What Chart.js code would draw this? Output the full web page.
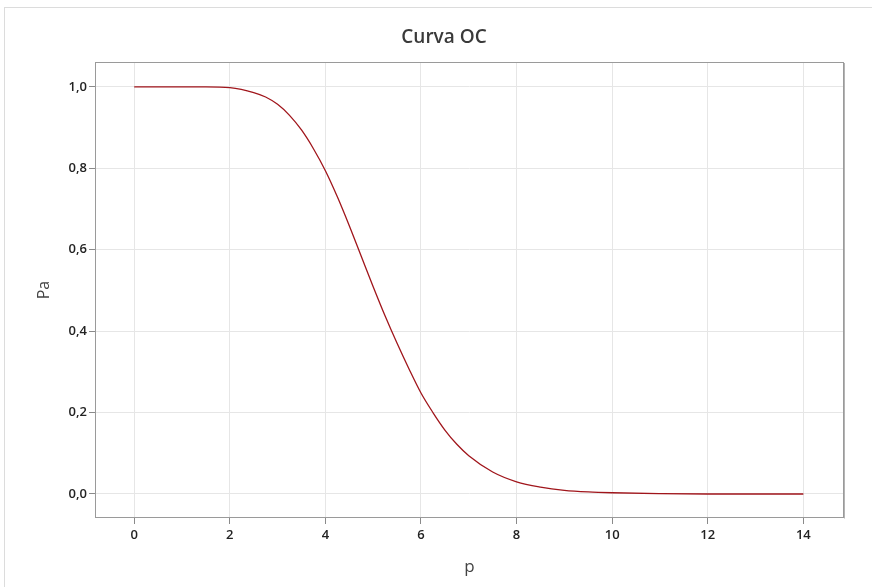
<!DOCTYPE html>
<html>
<head>
<meta charset="utf-8">
<script src="https://cdn.jsdelivr.net/npm/chart.js@4.4.1/dist/chart.umd.min.js"></script>
<style>
  body { margin: 0; background: #fff; }
  #frame { position: absolute; left: 4px; top: 7px; width: 900px; height: 600px;
           border-left: 1px solid #dcdcdc; border-top: 1px solid #dcdcdc; }
  #wrap { position: absolute; left: 0; top: 0; width: 872px; height: 587px; }
</style>
</head>
<body>
<div id="frame"></div>
<div id="wrap"><canvas id="ocChart" width="872" height="587"></canvas></div>
<script>
// data
var pValues = [0, 0.5, 1, 1.5, 2, 2.5, 2.75, 3, 3.25, 3.5, 3.75, 4, 4.25, 4.5, 4.75, 5, 5.25, 5.5, 5.75, 6, 6.25, 6.5, 6.75, 7, 7.5, 8, 8.5, 9, 9.5, 10, 11, 12, 13, 14]
var paValues = [1, 1, 1, 1, 0.998, 0.986, 0.975, 0.957, 0.930, 0.894, 0.848, 0.794, 0.730, 0.659, 0.584, 0.509, 0.437, 0.370, 0.307, 0.248, 0.200, 0.157, 0.122, 0.094, 0.054, 0.03, 0.017, 0.009, 0.005, 0.003, 0.001, 0, 0, 0]
var xTicks = [0, 2, 4, 6, 8, 10, 12, 14]
var yTicks = [0, 0.2, 0.4, 0.6, 0.8, 1.0]

var chartTitle = 'Curva OC'
var labelFont = { family: 'Open Sans', size: 13, weight: '600' }

// frame round the plot area + the title
var framePlugin = {
    id: 'frame',
    afterDraw: function (chart) {
        var a = chart.chartArea
        var ctx = chart.ctx
        ctx.save()
        ctx.strokeStyle = '#9a9a9a'
        ctx.lineWidth = 1
        ctx.strokeRect(a.left + 0.5, a.top + 0.5, a.right - a.left - 1, a.bottom - a.top - 1)
        ctx.strokeStyle = '#b4b4b4'
        ctx.beginPath()
        ctx.moveTo(a.right + 0.5, a.top + 1)
        ctx.lineTo(a.right + 0.5, a.bottom + 0.5)
        ctx.stroke()
        ctx.fillStyle = '#3a3a3a'
        ctx.font = '600 19px "Open Sans"'
        ctx.textAlign = 'center'
        ctx.textBaseline = 'middle'
        ctx.fillText(chartTitle, 444, 38)
        ctx.restore()
    }
}

new Chart(document.getElementById('ocChart'), {
    type: 'line',
    data: {
        datasets: [{
            data: pValues.map(function (p, i) { return { x: p, y: paValues[i] } }),
            borderColor: '#a0151b',
            borderWidth: 1.3,
            pointRadius: 0,
            cubicInterpolationMode: 'monotone',
            fill: false
        }]
    },
    options: {
        responsive: false,
        animation: false,
        layout: { padding: { top: 62, right: 28, left: 0, bottom: 0 } },
        plugins: { legend: { display: false }, title: { display: false }, tooltip: { enabled: false } },
        scales: {
            x: {
                type: 'linear',
                min: -0.82,
                max: 14.85,
                afterBuildTicks: function (scale) {
                    scale.ticks = xTicks.map(function (v) { return { value: v } })
                },
                afterFit: function (scale) { scale.height = 69 },
                grid: { color: '#e6e6e6', tickColor: '#8a8a8a', tickLength: 6, drawTicks: true },
                border: { display: false },
                ticks: { color: '#222', font: labelFont, padding: 3, maxRotation: 0 },
                title: { display: true, text: 'p', color: '#444', font: { family: 'Open Sans', size: 17 }, padding: { top: 0, bottom: 10 } }
            },
            y: {
                min: -0.059,
                max: 1.061,
                afterBuildTicks: function (scale) {
                    scale.ticks = yTicks.map(function (v) { return { value: v } })
                },
                afterFit: function (scale) { scale.width = 95 },
                grid: { color: '#e6e6e6', tickColor: '#8a8a8a', tickLength: 6, drawTicks: true },
                border: { display: false },
                ticks: {
                    color: '#222', font: labelFont, padding: 2,
                    callback: function (v) { return v.toFixed(1).replace('.', ',') }
                },
                title: { display: true, text: 'Pa', color: '#444', font: { family: 'Open Sans', size: 16 }, padding: { top: 35, bottom: 0 } }
            }
        }
    },
    plugins: [framePlugin]
})
</script>
</body>
</html>
